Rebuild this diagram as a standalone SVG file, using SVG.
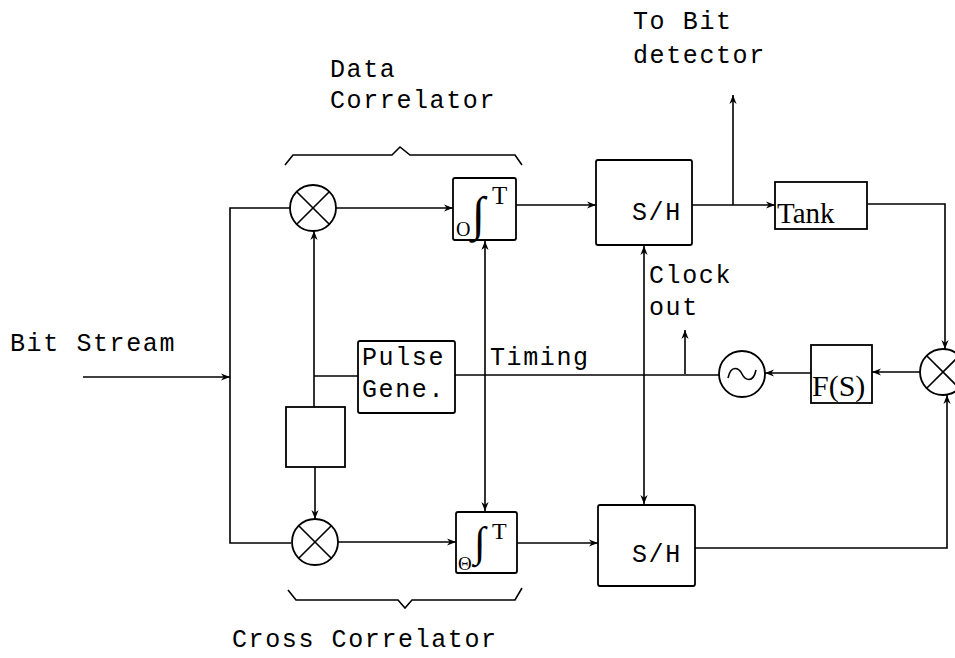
<svg xmlns="http://www.w3.org/2000/svg" width="955" height="658" viewBox="0 0 955 658">
<defs>
<style>
.ln{fill:none;stroke:#000;stroke-width:1.6}
.bx{fill:#fff;stroke:#000;stroke-width:1.8}
.t{font-family:"Liberation Mono","DejaVu Sans Mono",monospace;font-size:25px;letter-spacing:1.6px;fill:#000}
.s{font-family:"Liberation Serif","DejaVu Serif",serif;fill:#000}
</style>
<marker id="ah" viewBox="0 0 10 10" refX="10" refY="5" markerWidth="9" markerHeight="9" markerUnits="userSpaceOnUse" orient="auto-start-reverse">
<path d="M0,1 L10,5 L0,9 L3,5 Z" fill="#000"/>
</marker>
</defs>
<rect width="955" height="658" fill="#fff"/>

<g id="connectors">
<path class="ln" d="M83,377 H230" marker-end="url(#ah)"/>
<path class="ln" d="M290,208 H230 V543 H291"/>
<path class="ln" d="M336,208 H453" marker-end="url(#ah)"/>
<path class="ln" d="M338,542 H456" marker-end="url(#ah)"/>
<path class="ln" d="M314,407 V231" marker-end="url(#ah)"/>
<path class="ln" d="M315,467 V519" marker-end="url(#ah)"/>
<path class="ln" d="M314,376 H358"/>
<path class="ln" d="M455,375 H719"/>
<path class="ln" d="M485,241 V511" marker-start="url(#ah)" marker-end="url(#ah)"/>
<path class="ln" d="M516,205 H596" marker-end="url(#ah)"/>
<path class="ln" d="M517,543 H598" marker-end="url(#ah)"/>
<path class="ln" d="M692,205 H775" marker-end="url(#ah)"/>
<path class="ln" d="M733,205 V95" marker-end="url(#ah)"/>
<path class="ln" d="M868,204 H945 V349" marker-end="url(#ah)"/>
<path class="ln" d="M920,372 H872" marker-end="url(#ah)"/>
<path class="ln" d="M811,373 H765" marker-end="url(#ah)"/>
<path class="ln" d="M685,374 V330" marker-end="url(#ah)"/>
<path class="ln" d="M644,246 V504" marker-start="url(#ah)" marker-end="url(#ah)"/>
<path class="ln" d="M695,548 H947 V395" marker-end="url(#ah)"/>
<path class="ln" d="M285,165 L293,155 H392 L400,147 L410,155 H515 L522,165"/>
<path class="ln" d="M288,590 L296,600 H398 L405,608 L412,600 H515 L522,588"/>
</g>

<g id="mult-top">
<circle class="bx" cx="313" cy="208" r="23"/>
<path class="ln" d="M296.7,191.7 L329.3,224.3 M329.3,191.7 L296.7,224.3"/>
</g>
<g id="mult-bottom">
<circle class="bx" cx="315" cy="542" r="23"/>
<path class="ln" d="M298.7,525.7 L331.3,558.3 M331.3,525.7 L298.7,558.3"/>
</g>
<g id="mult-right">
<circle class="bx" cx="943" cy="372" r="23"/>
<path class="ln" d="M926.7,355.7 L959.3,388.3 M959.3,355.7 L926.7,388.3"/>
</g>
<g id="small-box">
<rect class="bx" x="286" y="407" width="59" height="60"/>
</g>
<g id="pulse-gene">
<rect class="bx" x="358" y="341" width="97" height="72" rx="2"/>
<text class="t" x="362" y="365">Pulse</text>
<text class="t" x="362" y="397">Gene.</text>
</g>
<g id="int-top">
<rect class="bx" x="453" y="178" width="63" height="62" rx="2"/>
<text class="s" x="456" y="236" font-size="20">O</text>
<text class="s" x="472" y="230" font-size="48" font-weight="bold">∫</text>
<text class="s" x="492" y="204" font-size="25">T</text>
</g>
<g id="int-bottom">
<rect class="bx" x="456" y="512" width="61" height="61" rx="2"/>
<text class="s" x="458" y="570" font-size="19">Θ</text>
<text class="s" x="474" y="556" font-size="42">∫</text>
<text class="s" x="492" y="539" font-size="24">T</text>
</g>
<g id="sh-top">
<rect class="bx" x="596" y="160" width="96" height="85" rx="2"/>
<text class="t" x="632" y="220">S/H</text>
</g>
<g id="sh-bottom">
<rect class="bx" x="598" y="505" width="97" height="81" rx="2"/>
<text class="t" x="632" y="562">S/H</text>
</g>
<g id="tank">
<rect class="bx" x="775" y="182" width="92" height="47"/>
<text class="s" x="777" y="223" font-size="29">Tank</text>
</g>
<g id="fs">
<rect class="bx" x="811" y="345" width="61" height="58"/>
<text class="s" x="812" y="396" font-size="30">F(S)</text>
</g>
<g id="osc">
<circle class="bx" cx="742" cy="374" r="23"/>
<path class="ln" stroke-width="2.4" d="M728,378 C731,364 739,368 742,374 C745,380 753,384 756,370"/>
</g>

<g id="labels">
<text class="t" x="10" y="351">Bit Stream</text>
<text class="t" x="330" y="77">Data</text>
<text class="t" x="330" y="108">Correlator</text>
<text class="t" x="633" y="29">To Bit</text>
<text class="t" x="633" y="63">detector</text>
<text class="t" x="490" y="365">Timing</text>
<text class="t" x="649" y="283">Clock</text>
<text class="t" x="649" y="315">out</text>
<text class="t" x="232" y="647">Cross Correlator</text>
</g>
</svg>
